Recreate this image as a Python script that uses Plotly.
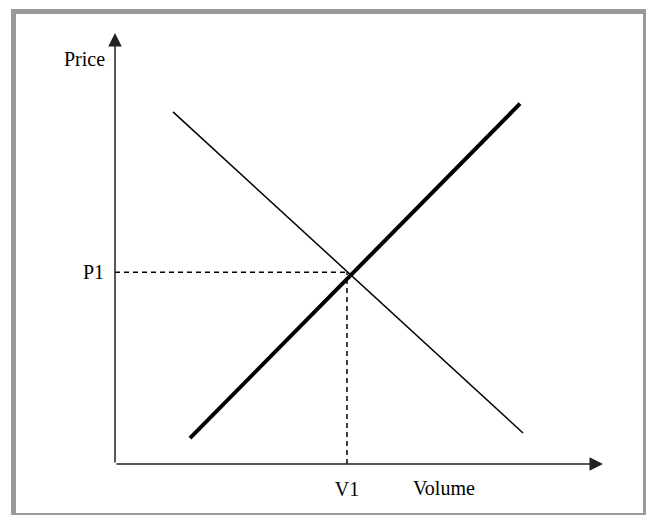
import plotly.graph_objects as go

# Data (abstract units: x 0-100 volume, y 0-100 price)
demand_x = [11.6, 81.6]
demand_y = [81.7, 7.2]
supply_x = [15.0, 81.0]
supply_y = [6.0, 83.6]
v1 = 46.4
p1 = 44.5
x_axis_end = 97.6
y_axis_end = 100
tick_x_labels = ["V1"]
tick_y_labels = ["P1"]
x_title = "Volume"
y_title = "Price"

FONT = "Liberation Serif"

fig = go.Figure()

fig.add_trace(go.Scatter(x=demand_x, y=demand_y, mode="lines",
                         line=dict(color="black", width=1.5), hoverinfo="skip"))
fig.add_trace(go.Scatter(x=supply_x, y=supply_y, mode="lines",
                         line=dict(color="black", width=4), hoverinfo="skip"))
fig.add_trace(go.Scatter(x=[0, v1], y=[p1, p1], mode="lines",
                         line=dict(color="black", width=1.5, dash="5px,4px"), hoverinfo="skip"))
fig.add_trace(go.Scatter(x=[v1, v1], y=[0, p1], mode="lines",
                         line=dict(color="black", width=1.5, dash="5px,4px"), hoverinfo="skip"))

fig.add_annotation(x=x_axis_end, y=0, ax=0, ay=0, xref="x", yref="y", axref="x", ayref="y",
                   text="", showarrow=True, arrowhead=2, arrowsize=1.8, arrowwidth=1.5,
                   arrowcolor="#222222")
fig.add_annotation(x=0, y=y_axis_end, ax=0, ay=0, xref="x", yref="y", axref="x", ayref="y",
                   text="", showarrow=True, arrowhead=2, arrowsize=1.8, arrowwidth=1.5,
                   arrowcolor="#222222")

fig.add_annotation(x=-0.062, y=0.94, xref="paper", yref="paper", text=y_title, showarrow=False,
                   xanchor="center", yanchor="middle",
                   font=dict(family=FONT, size=20, color="black"))
fig.add_annotation(x=0.658, y=-0.056, xref="paper", yref="paper", text=x_title, showarrow=False,
                   xanchor="center", yanchor="middle",
                   font=dict(family=FONT, size=20, color="black"))

# frame
fig.add_shape(type="rect", xref="paper", yref="paper",
              x0=-0.203, x1=1.061, y0=-0.1195, y1=1.0499,
              line=dict(color="#9a9a9a", width=5), fillcolor="rgba(0,0,0,0)", layer="below")

fig.update_layout(
    width=646, height=515,
    margin=dict(l=115, r=31, t=33, b=51),
    paper_bgcolor="white", plot_bgcolor="white",
    showlegend=False,
    font=dict(family=FONT, size=20, color="black"),
    xaxis=dict(range=[0, 100], showgrid=False, zeroline=False, showline=False,
               tickvals=[v1], ticktext=tick_x_labels, ticks="", ticklabelstandoff=11,
               tickfont=dict(family=FONT, size=20, color="black")),
    yaxis=dict(range=[0, 100], showgrid=False, zeroline=False, showline=False,
               tickvals=[p1], ticktext=tick_y_labels, ticks="", ticklabelstandoff=10,
               tickfont=dict(family=FONT, size=20, color="black")),
)

fig.write_html("out.html", config={"displayModeBar": False},
               post_script="document.body.style.margin='0';document.body.style.overflow='hidden';")
